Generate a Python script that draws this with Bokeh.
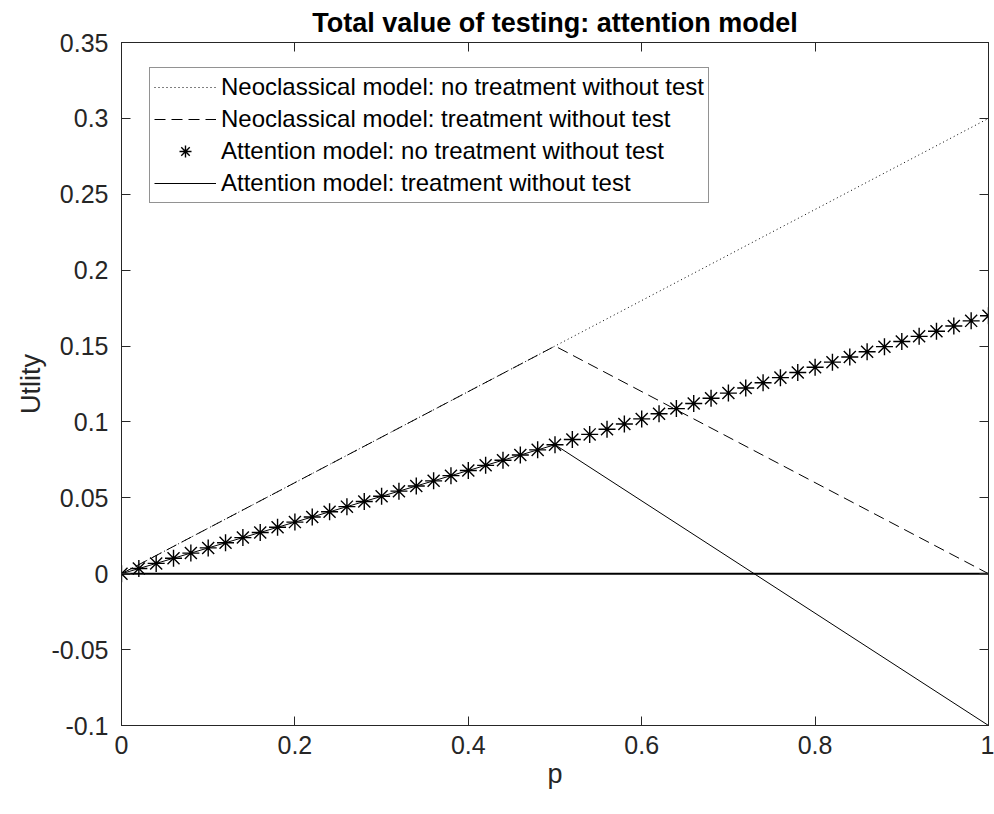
from bokeh.plotting import figure
from bokeh.models import Range1d, LinearAxis, Legend, LegendItem, FixedTicker
from bokeh.embed import file_html
from bokeh.resources import INLINE

# Probability grid used for the attention-model markers
p_grid = [0.00, 0.02, 0.04, 0.06, 0.08, 0.10, 0.12, 0.14, 0.16, 0.18,
          0.20, 0.22, 0.24, 0.26, 0.28, 0.30, 0.32, 0.34, 0.36, 0.38,
          0.40, 0.42, 0.44, 0.46, 0.48, 0.50, 0.52, 0.54, 0.56, 0.58,
          0.60, 0.62, 0.64, 0.66, 0.68, 0.70, 0.72, 0.74, 0.76, 0.78,
          0.80, 0.82, 0.84, 0.86, 0.88, 0.90, 0.92, 0.94, 0.96, 0.98, 1.00]

# Attention model: no treatment without test
att_no_treat = [0.0000, 0.0034, 0.0068, 0.0102, 0.0136, 0.0170, 0.0204, 0.0238, 0.0272, 0.0306,
                0.0340, 0.0374, 0.0408, 0.0442, 0.0476, 0.0510, 0.0544, 0.0578, 0.0612, 0.0646,
                0.0680, 0.0714, 0.0748, 0.0782, 0.0816, 0.0850, 0.0884, 0.0918, 0.0952, 0.0986,
                0.1020, 0.1054, 0.1088, 0.1122, 0.1156, 0.1190, 0.1224, 0.1258, 0.1292, 0.1326,
                0.1360, 0.1394, 0.1428, 0.1462, 0.1496, 0.1530, 0.1564, 0.1598, 0.1632, 0.1666, 0.1700]

# Neoclassical model: no treatment without test
neo_no_treat_p = [0.0, 1.0]
neo_no_treat_u = [0.0, 0.30]

# Neoclassical model: treatment without test
neo_treat_p = [0.0, 0.5, 1.0]
neo_treat_u = [0.0, 0.15, 0.0]

# Attention model: treatment without test
att_treat_p = [0.0, 0.5, 1.0]
att_treat_u = [0.0, 0.085, -0.10]

# Zero reference line
zero_p = [0.0, 1.0]
zero_u = [0.0, 0.0]

x_ticks = [0, 0.2, 0.4, 0.6, 0.8, 1]
y_ticks = [-0.1, -0.05, 0, 0.05, 0.1, 0.15, 0.2, 0.25, 0.3, 0.35]
x_tick_labels = ["0", "0.2", "0.4", "0.6", "0.8", "1"]
y_tick_labels = ["-0.1", "-0.05", "0", "0.05", "0.1", "0.15", "0.2", "0.25", "0.3", "0.35"]

AX = "#262626"
FONT = "Liberation Sans"
TICK_SIZE = "25px"
LABEL_SIZE = "27px"
LEGEND_SIZE = "24px"

p = figure(frame_width=867, frame_height=683,
           min_border_left=121, min_border_right=6,
           min_border_top=42, min_border_bottom=89,
           x_range=Range1d(0, 1), y_range=Range1d(-0.1, 0.35),
           output_backend="svg", toolbar_location=None,
           x_axis_label="p", y_axis_label="Utlity",
           background_fill_color="white", border_fill_color="white")

p.title.text = "Total value of testing: attention model"
p.title.text_font = FONT
p.title.text_font_size = "27px"
p.title.text_font_style = "bold"
p.title.text_color = "black"
p.title.align = "center"
p.title.standoff = 10

p.grid.visible = False
p.outline_line_color = AX

for ax, ticks, labels in ((p.xaxis[0], x_ticks, x_tick_labels),
                          (p.yaxis[0], y_ticks, y_tick_labels)):
    ax.ticker = FixedTicker(ticks=ticks)
    ax.major_label_overrides = dict(zip(ticks, labels))
    ax.major_tick_in = 9
    ax.major_tick_out = 0
    ax.minor_tick_line_color = None
    ax.axis_line_color = AX
    ax.major_tick_line_color = AX
    ax.major_label_text_color = AX
    ax.major_label_text_font = FONT
    ax.major_label_text_font_size = TICK_SIZE
    ax.axis_label_text_font = FONT
    ax.axis_label_text_font_size = LABEL_SIZE
    ax.axis_label_text_font_style = "normal"
    ax.axis_label_text_color = AX

p.xaxis[0].major_label_standoff = 10
p.xaxis[0].axis_label_standoff = 2
p.yaxis[0].major_label_standoff = 13
p.yaxis[0].axis_label_standoff = 3

# Box ticks on the top and right sides (no labels)
top = LinearAxis(ticker=FixedTicker(ticks=x_ticks), major_tick_in=9, major_tick_out=0,
                 minor_tick_line_color=None, axis_line_color=AX, major_tick_line_color=AX,
                 major_label_overrides={t: "" for t in x_ticks}, major_label_standoff=0,
                 major_label_text_font_size="1px")
right = LinearAxis(ticker=FixedTicker(ticks=y_ticks), major_tick_in=9, major_tick_out=0,
                   minor_tick_line_color=None, axis_line_color=AX, major_tick_line_color=AX,
                   major_label_overrides={t: "" for t in y_ticks}, major_label_standoff=0,
                   major_label_text_font_size="1px")
p.add_layout(top, "above")
p.add_layout(right, "right")

# Curves
r_zero = p.line(zero_p, zero_u, line_color="black", line_width=2)
r_neo_no = p.line(neo_no_treat_p, neo_no_treat_u, line_color="black", line_width=1,
                  line_dash="1 3")
r_neo_tr = p.line(neo_treat_p, neo_treat_u, line_color="black", line_width=1,
                  line_dash="11 6")
r_att_tr = p.line(att_treat_p, att_treat_u, line_color="black", line_width=1)
r_att_no = p.scatter(p_grid, att_no_treat, marker="asterisk", size=17,
                     line_color="black", line_width=1.4)

legend = Legend(items=[
    LegendItem(label="Neoclassical model: no treatment without test", renderers=[r_neo_no]),
    LegendItem(label="Neoclassical model: treatment without test", renderers=[r_neo_tr]),
    LegendItem(label="Attention model: no treatment without test", renderers=[r_att_no]),
    LegendItem(label="Attention model: treatment without test", renderers=[r_att_tr]),
], location=(28, 522))
legend.label_text_font = FONT
legend.label_text_font_size = LEGEND_SIZE
legend.label_text_color = "black"
legend.glyph_width = 62
legend.glyph_height = 30
legend.label_height = 30
legend.label_standoff = 5
legend.spacing = 2
legend.padding = 4
legend.margin = 0
legend.border_line_color = AX
legend.border_line_width = 1
legend.background_fill_color = "white"
legend.background_fill_alpha = 1
p.add_layout(legend, "center")

open("out.html", "w").write(file_html(p, INLINE))
